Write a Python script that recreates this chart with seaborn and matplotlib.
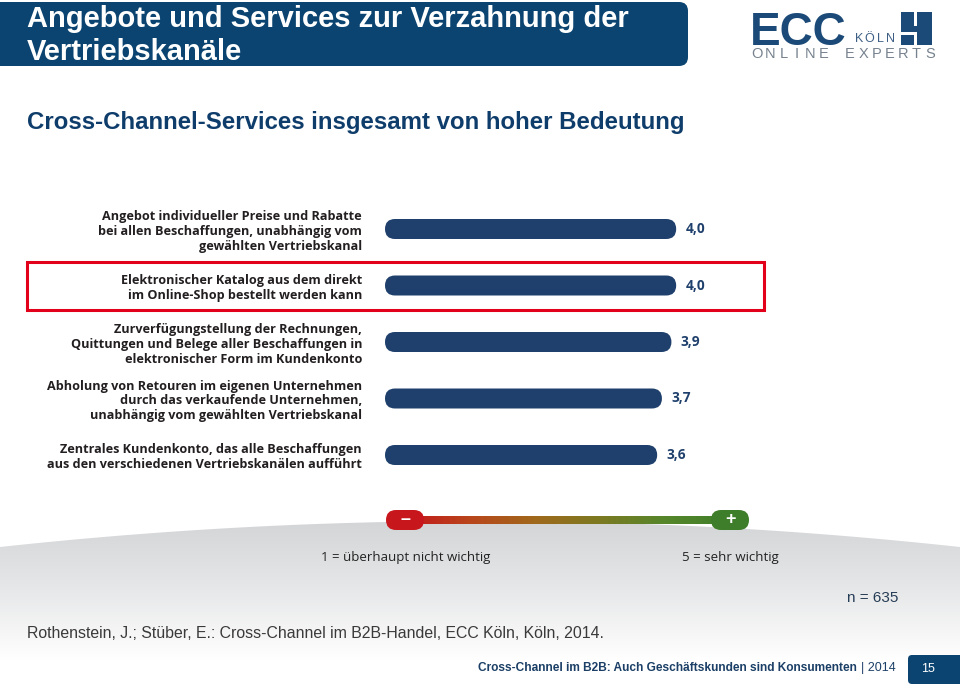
import numpy as np
import pandas as pd
import matplotlib.pyplot as plt
import seaborn as sns
from matplotlib.patches import FancyBboxPatch, Rectangle, Polygon
from matplotlib.colors import LinearSegmentedColormap

# data
labels = [
    "Angebot individueller Preise und Rabatte\nbei allen Beschaffungen, unabhängig vom\ngewählten Vertriebskanal",
    "Elektronischer Katalog aus dem direkt\nim Online-Shop bestellt werden kann",
    "Zurverfügungstellung der Rechnungen,\nQuittungen und Belege aller Beschaffungen in\nelektronischer Form im Kundenkonto",
    "Abholung von Retouren im eigenen Unternehmen\ndurch das verkaufende Unternehmen,\nunabhängig vom gewählten Vertriebskanal",
    "Zentrales Kundenkonto, das alle Beschaffungen\naus den verschiedenen Vertriebskanälen aufführt",
]
values = [4.0, 4.0, 3.9, 3.7, 3.6]

title_lines = ["Angebote und Services zur Verzahnung der", "Vertriebskanäle"]
subtitle = "Cross-Channel-Services insgesamt von hoher Bedeutung"
scale_low = "1 = überhaupt nicht wichtig"
scale_high = "5 = sehr wichtig"
sample = "n = 635"
source = "Rothenstein, J.; Stüber, E.: Cross-Channel im B2B-Handel, ECC Köln, Köln, 2014."
footer = "Cross-Channel im B2B: Auch Geschäftskunden sind Konsumenten"
footer_year = "| 2014"
page = "15"

NAVY = "#1f406c"
HEADER = "#0b4470"
SUB = "#0f3d6b"
RED = "#e2001a"
LOGO = "#1b4a78"

sns.set_theme(style="white")
plt.rcParams["font.family"] = ["Liberation Sans", "DejaVu Sans"]

W, H = 960, 687
fig = plt.figure(figsize=(9.6, 6.87), dpi=100)

# background axes in pixel units for the slide decoration
bg = fig.add_axes([0, 0, 1, 1])
bg.axis("off")

# grey arc at the bottom
xs = np.linspace(0, W, 200)
top = 521 + 26 * ((xs - 480) / 480) ** 2
arc = Polygon(np.column_stack([np.r_[xs, W, 0], np.r_[top, H, H]]), closed=True,
              transform=bg.transData, fc="none", ec="none")
bg.add_patch(arc)
grey = LinearSegmentedColormap.from_list("g", ["#d2d3d5", "#e6e7e8", "#ffffff"])
im = bg.imshow(np.linspace(0, 1, 256).reshape(-1, 1), cmap=grey, aspect="auto",
               extent=(0, W, 660, 515), zorder=0)
im.set_clip_path(arc)

# header
bg.add_patch(FancyBboxPatch((-30, 2), 718, 64, boxstyle="round,pad=0,rounding_size=9",
                            fc=HEADER, ec="none"))
bg.text(27, 19, title_lines[0], color="white", fontsize=21, fontweight="bold", va="center")
bg.text(27, 52, title_lines[1], color="white", fontsize=21, fontweight="bold", va="center")
bg.text(27, 123, subtitle, color=SUB, fontsize=17.3, fontweight="bold", va="center")

# logo
bg.text(750, 45, "ECC", color=LOGO, fontsize=33, fontweight="bold", va="baseline")
for i, ch in enumerate("KÖLN"):
    bg.text(859 + i * 10.6, 42, ch, color="#3d5f86", fontsize=9, ha="center", va="baseline")
for i, ch in enumerate("ONLINE EXPERTS"):
    bg.text(757 + i * 13.3, 58, ch, color="#76828e", fontsize=10.5, ha="center", va="baseline")
bg.add_patch(Rectangle((901, 12), 13, 20, fc=LOGO, ec="none"))
bg.add_patch(Rectangle((901, 35), 13, 10, fc=LOGO, ec="none"))
bg.add_patch(Rectangle((917, 12), 15, 33, fc=LOGO, ec="none"))
bg.add_patch(Rectangle((914, 26), 3, 6, fc=LOGO, ec="none"))

# red frame around highlighted row
bg.add_patch(Rectangle((27, 262), 737, 48, fill=False, ec=RED, lw=2.2))

# importance scale
ramp = LinearSegmentedColormap.from_list(
    "r", ["#c4161c", "#b9461b", "#a0691c", "#7c7a22", "#56862b", "#3f7f2a"])
bg.imshow(np.linspace(0, 1, 256).reshape(1, -1), cmap=ramp, aspect="auto",
          extent=(405, 730, 524, 516), zorder=2)
bg.add_patch(FancyBboxPatch((386, 510), 38, 20, boxstyle="round,pad=0,rounding_size=10",
                            fc="#c8161d", ec="none", zorder=3))
bg.add_patch(FancyBboxPatch((711, 510), 38, 20, boxstyle="round,pad=0,rounding_size=10",
                            fc="#3e7d2a", ec="none", zorder=3))
bg.text(405, 519, "–", color="white", fontsize=13, fontweight="bold", ha="center", va="center", zorder=4)
bg.text(730, 519.5, "+", color="white", fontsize=13, fontweight="bold", ha="center", va="center", zorder=4)
bg.text(406, 557, scale_low, color="#222222", fontsize=9.5, ha="center", va="center", family="Open Sans")
bg.text(730, 557, scale_high, color="#222222", fontsize=9.5, ha="center", va="center", family="Open Sans")

# notes and footer
bg.text(898, 598, sample, color="#263d57", fontsize=11, ha="right", va="center")
bg.text(27, 634, source, color="#3a3a3a", fontsize=11.4, va="center")
bg.text(857, 668, footer, color="#1b3f66", fontsize=8.6, fontweight="bold", ha="right", va="center")
bg.text(861, 668, footer_year, color="#1b3f66", fontsize=9, ha="left", va="center")
bg.add_patch(FancyBboxPatch((908, 655), 70, 29, boxstyle="round,pad=0,rounding_size=4",
                            fc=HEADER, ec="none"))
bg.text(928, 669, page, color="white", fontsize=9, ha="center", va="center")

bg.set_xlim(0, W)
bg.set_ylim(H, 0)

# bar chart axes: bars centred at y=229..455 px, starting at x=385 px
PX_X = 47.5   # px per rating unit
PX_Y = 56.5   # px per row
X0 = -2.13    # visual offset of the bar start
ax = fig.add_axes([385 / W, 1 - 483.25 / H, 375 / W, 282.5 / H])
ax.patch.set_alpha(0)
df = pd.DataFrame({"label": labels, "value": values})
sns.barplot(data=df, x="value", y="label", orient="h", color=NAVY, width=0.354,
            ax=ax, saturation=1)
ax.set_xlim(X0, X0 + 375 / PX_X)
ax.set_ylim(4.5, -0.5)

aspect = PX_X / PX_Y
for p in list(ax.patches):
    y, h, w = p.get_y(), p.get_height(), p.get_width()
    p.remove()
    ax.add_patch(FancyBboxPatch((X0, y), w - X0, h,
                                boxstyle=f"round,pad=0,rounding_size={h / aspect / 2}",
                                mutation_aspect=aspect, fc=NAVY, ec="none"))

for i, v in enumerate(values):
    ax.annotate(f"{v:.1f}".replace(".", ","), xy=(v, i), xytext=(6.8, 0),
                textcoords="offset points", ha="left", va="center",
                color=NAVY, fontsize=9.8, fontweight="bold", family="Open Sans")

ax.set_xticks([])
ax.set_xlabel("")
ax.set_ylabel("")
ax.tick_params(axis="y", length=0, pad=16.5)
for t in ax.get_yticklabels():
    t.set_fontfamily("Open Sans")
    t.set_fontweight("bold")
    t.set_fontsize(9.1)
    t.set_color("#231f20")
    t.set_linespacing(1.18)
sns.despine(ax=ax, left=True, bottom=True)

fig.savefig("out.png", dpi=100)
